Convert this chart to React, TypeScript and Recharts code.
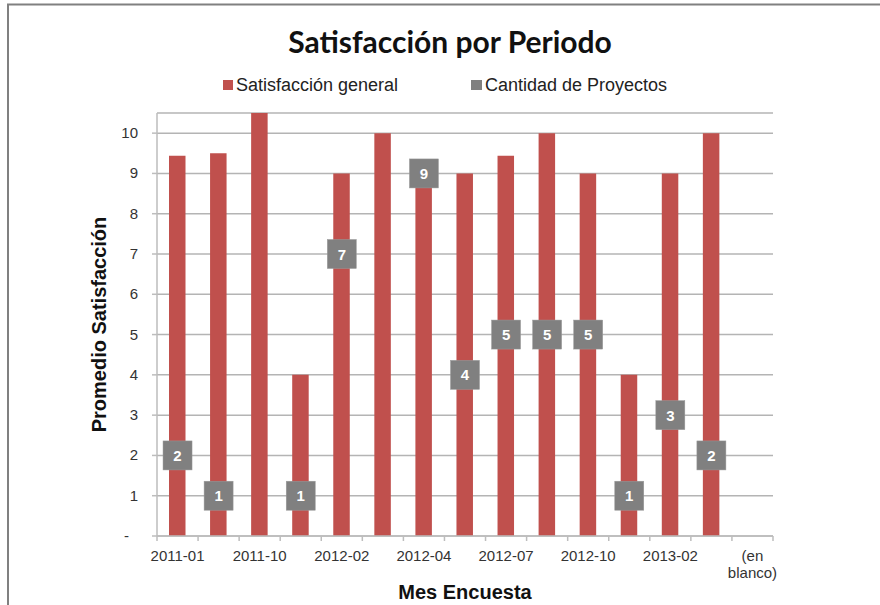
import { ComposedChart, Bar, Line, XAxis, YAxis, CartesianGrid, Label } from 'recharts';

const months = [
  '2011-01', '2011-06', '2011-10', '2011-12', '2012-02', '2012-03', '2012-04', '2012-05',
  '2012-07', '2012-08', '2012-10', '2012-11', '2013-02', '2013-03', '(en blanco)',
];
const satisfaccion = [9.44, 9.5, 10.5, 4, 9, 10, 9, 9, 9.44, 10, 9, 4, 9, 10, null];
const proyectos = [2, 1, null, 1, 7, null, 9, 4, 5, 5, 5, 1, 3, 2, null];
const yTicks = [0, 1, 2, 3, 4, 5, 6, 7, 8, 9, 10];

const rows = months.map((mes, i) => ({
  mes,
  satisfaccion: satisfaccion[i],
  proyectos: proyectos[i],
}));

const FONT = '"Liberation Sans", Arial, sans-serif';
const RED = '#C0504D';
const GRAY = '#808080';
const LINE = '#BDBDBD';

const XTick = (props: any) => {
  const { x, y, payload, index } = props;
  const half = payload.offset || 20.5;
  const last = index === months.length - 1;
  const show = index % 2 === 0;
  const parts = String(payload.value).startsWith('(') ? ['(en', 'blanco)'] : [payload.value];
  return (
    <g>
      <line x1={x - half} x2={x - half} y1={y} y2={y + 5} stroke={LINE} strokeWidth={1.5} />
      {last && <line x1={x + half} x2={x + half} y1={y} y2={y + 5} stroke={LINE} strokeWidth={1.5} />}
      {show &&
        parts.map((p: string, k: number) => (
          <text key={k} x={x} y={y + 24.5 + k * 17} textAnchor="middle" fontSize={15} fill="#333" fontFamily={FONT}>
            {p}
          </text>
        ))}
    </g>
  );
};

const YTick = (props: any) => {
  const { x, y, payload } = props;
  const zero = payload.value === 0;
  return (
    <text x={zero ? x - 9 : x} y={y} dy={5} textAnchor="end" fontSize={15} fill="#333" fontFamily={FONT}>
      {zero ? '-' : payload.value}
    </text>
  );
};

const Marker = (props: any) => {
  const { cx, cy, value, index } = props;
  if (value == null || cy == null) return <g key={index} />;
  return (
    <g key={index}>
      <rect x={cx - 14.5} y={cy - 14.5} width={29} height={29} fill={GRAY} stroke="#9a9a9a" strokeWidth={0.5} />
      <text x={cx} y={cy} dy={5.5} textAnchor="middle" fontSize={15} fontWeight="bold" fill="#fff" fontFamily={FONT}>
        {value}
      </text>
    </g>
  );
};

export default function App() {
  return (
    <div style={{ position: 'absolute', left: 0, top: 0, width: 880, height: 605, background: '#fff', fontFamily: FONT }}>
      <ComposedChart
        width={880}
        height={605}
        data={rows}
        margin={{ top: 113, right: 107, bottom: 0, left: 97 }}
        barCategoryGap={0}
      >
        <CartesianGrid vertical={false} stroke="#B4B4B4" strokeWidth={1.5} />
        <XAxis
          dataKey="mes"
          interval={0}
          tickSize={0}
          tickMargin={0}
          tick={<XTick />}
          height={69}
          axisLine={{ stroke: LINE, strokeWidth: 1.5 }}
        >
          <Label value="Mes Encuesta" position="insideBottom" offset={6} fontSize={20} fontWeight="bold" fill="#111" fontFamily={FONT} />
        </XAxis>
        <YAxis
          width={60}
          domain={[0, 10.5]}
          ticks={yTicks}
          interval={0}
          tickSize={5}
          tickMargin={14}
          tick={<YTick />}
          tickLine={{ stroke: LINE, strokeWidth: 1.5 }}
          axisLine={{ stroke: LINE, strokeWidth: 1.5 }}
        >
          <Label
            value="Promedio Satisfacción"
            angle={-90}
            position="insideLeft"
            offset={2}
            fontSize={20}
            fontWeight="bold"
            fill="#111"
            fontFamily={FONT}
            style={{ textAnchor: 'middle' }}
          />
        </YAxis>
        <Bar dataKey="satisfaccion" fill={RED} barSize={16.5} isAnimationActive={false} />
        <Line
          dataKey="proyectos"
          stroke="none"
          dot={Marker}
          activeDot={false}
          isAnimationActive={false}
        />
      </ComposedChart>
      <svg width={880} height={605} style={{ position: 'absolute', left: 0, top: 0, pointerEvents: 'none' }}>
        <path d="M8,605 V4.5 H880" fill="none" stroke={GRAY} strokeWidth={2} />
        <text x={450} y={53} textAnchor="middle" fontSize={30} fontWeight="bold" fill="#111" fontFamily="Lato, sans-serif">
          Satisfacción por Periodo
        </text>
        <rect x={223} y={80} width={10} height={10} fill={RED} />
        <text x={236} y={90.5} fontSize={18} fill="#222" fontFamily={FONT}>
          Satisfacción general
        </text>
        <rect x={471} y={80} width={11} height={10} fill={GRAY} />
        <text x={485} y={90.5} fontSize={18} fill="#222" fontFamily={FONT}>
          Cantidad de Proyectos
        </text>
      </svg>
    </div>
  );
}
